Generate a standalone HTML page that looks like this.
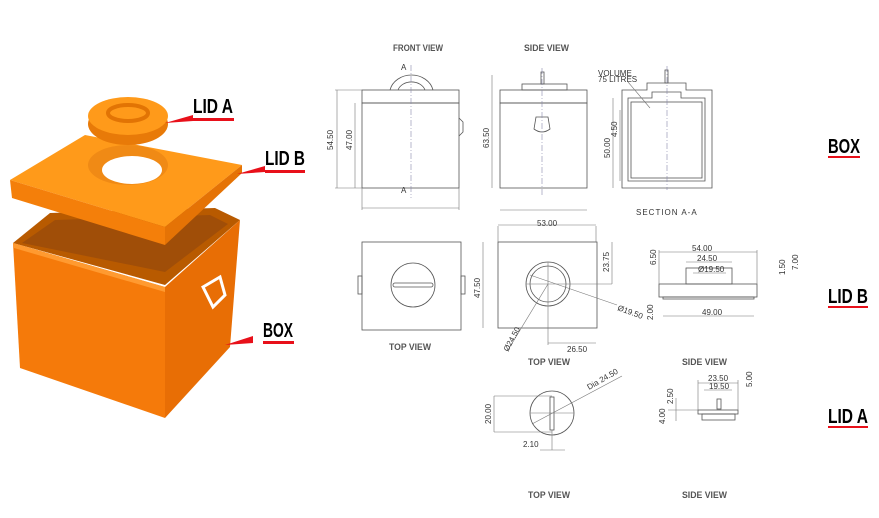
<!DOCTYPE html>
<html><head><meta charset="utf-8"><style>
html,body{margin:0;padding:0;background:#fff;}
svg{display:block;}
.l{fill:none;stroke:#555;stroke-width:0.8}
.d{fill:none;stroke:#777;stroke-width:0.6}
.c{fill:none;stroke:#88a;stroke-width:0.6;stroke-dasharray:6 2 1 2}
.t{font-family:"Liberation Sans",sans-serif;font-size:8px;fill:#333}
.h{font-family:"Liberation Sans",sans-serif;font-size:9px;font-weight:bold;fill:#555}
.b{font-family:"Liberation Sans",sans-serif;font-size:20px;font-weight:bold;fill:#000}
</style></head><body>
<svg width="879" height="518" viewBox="0 0 879 518" xmlns="http://www.w3.org/2000/svg">
<rect width="879" height="518" fill="#fff"/>
<!-- orange box -->
<polygon points="13,243 50,213 215,208 240,220 165,285" fill="#b85a00"/>
<polygon points="22,243 55,220 210,215 228,224 165,272" fill="#a04e08"/>
<polygon points="13,243 165,287 165,418 20,368" fill="#f57a0a"/>
<polygon points="165,287 240,220 230,347 165,418" fill="#e86e05"/>
<polygon points="13,243 165,287 165,292 14,248" fill="#ff9a30"/>
<path d="M203,287 l17,-10 l5,18 l-12,12 z" fill="none" stroke="#fff" stroke-width="3"/>
<!-- lid B -->
<polygon points="10,180 85,135 242,165 165,227" fill="#ff9a1a"/>
<polygon points="10,180 165,227 165,245 12,198" fill="#f47f0a"/>
<polygon points="165,227 242,165 242,173 165,245" fill="#e57305"/>
<ellipse cx="128" cy="165" rx="40" ry="20" fill="#f08a15"/>
<ellipse cx="132" cy="170" rx="30" ry="14" fill="#fff"/>
<!-- lid A -->
<ellipse cx="128" cy="124" rx="40" ry="21" fill="#e87a08"/>
<ellipse cx="128" cy="116" rx="40" ry="19" fill="#ff9a1a"/>
<ellipse cx="128" cy="113" rx="20" ry="8" fill="none" stroke="#e27404" stroke-width="4"/>
<!-- labels left -->
<text x="193" y="113" class="b" textLength="40" lengthAdjust="spacingAndGlyphs">LID A</text>
<rect x="193" y="118" width="41" height="3" fill="#e8101a"/>
<polygon points="165,123 193,115 193,121" fill="#e8101a"/>
<text x="265" y="165" class="b" textLength="40" lengthAdjust="spacingAndGlyphs">LID B</text>
<rect x="265" y="170" width="40" height="3" fill="#e8101a"/>
<polygon points="237,174 265,166 265,172" fill="#e8101a"/>
<text x="263" y="337" class="b" textLength="30" lengthAdjust="spacingAndGlyphs">BOX</text>
<rect x="263" y="341" width="31" height="3" fill="#e8101a"/>
<polygon points="225,345 253,336 253,343" fill="#e8101a"/>
<!-- right labels -->
<text x="828" y="153" class="b" textLength="32" lengthAdjust="spacingAndGlyphs">BOX</text>
<rect x="828" y="156" width="32" height="2" fill="#e8101a"/>
<text x="828" y="303" class="b" textLength="40" lengthAdjust="spacingAndGlyphs">LID B</text>
<rect x="828" y="306" width="40" height="2" fill="#e8101a"/>
<text x="828" y="423" class="b" textLength="40" lengthAdjust="spacingAndGlyphs">LID A</text>
<rect x="828" y="426" width="40" height="2" fill="#e8101a"/>
<!-- headings -->
<text x="393" y="51" class="h" textLength="50" lengthAdjust="spacingAndGlyphs">FRONT VIEW</text>
<text x="524" y="51" class="h" textLength="45" lengthAdjust="spacingAndGlyphs">SIDE VIEW</text>
<text x="389" y="350" class="h" textLength="42" lengthAdjust="spacingAndGlyphs">TOP VIEW</text>
<text x="528" y="365" class="h" textLength="42" lengthAdjust="spacingAndGlyphs">TOP VIEW</text>
<text x="682" y="365" class="h" textLength="45" lengthAdjust="spacingAndGlyphs">SIDE VIEW</text>
<text x="528" y="498" class="h" textLength="42" lengthAdjust="spacingAndGlyphs">TOP VIEW</text>
<text x="682" y="498" class="h" textLength="45" lengthAdjust="spacingAndGlyphs">SIDE VIEW</text>
<!-- front view -->
<rect x="362" y="90" width="97" height="13" class="l"/>
<rect x="362" y="103" width="97" height="85" class="l"/>
<path d="M390,90 A22,19 0 0 1 433,90" class="l"/>
<path d="M398,90 A14,11 0 0 1 425,90" class="l"/>
<path d="M459,118 l4,4 v10 l-4,4" class="l"/>
<line x1="411" y1="65" x2="411" y2="198" class="c"/>
<line x1="337" y1="90" x2="337" y2="188" class="d"/><line x1="335" y1="90" x2="362" y2="90" class="d"/><line x1="335" y1="188" x2="362" y2="188" class="d"/>
<line x1="355" y1="103" x2="355" y2="188" class="d"/>
<line x1="362" y1="208" x2="459" y2="208" class="d"/><line x1="362" y1="188" x2="362" y2="210" class="d"/><line x1="459" y1="188" x2="459" y2="210" class="d"/>
<text class="t" transform="translate(333,150) rotate(-90)">54.50</text>
<text class="t" transform="translate(352,150) rotate(-90)">47.00</text>
<text class="t" x="401" y="70" font-size="6">A</text><text class="t" x="401" y="193" font-size="6">A</text>
<!-- side view -->
<rect x="500" y="90" width="87" height="13" class="l"/>
<rect x="500" y="103" width="87" height="85" class="l"/>
<rect x="522" y="84" width="45" height="6" class="l"/>
<rect x="541" y="72" width="3" height="12" class="l"/>
<path d="M536,117 h12 l2,12 q-8,6 -16,0 z" class="l"/>
<line x1="542" y1="68" x2="542" y2="195" class="c"/>
<line x1="492" y1="75" x2="492" y2="188" class="d"/>
<line x1="500" y1="210" x2="587" y2="210" class="d"/>
<text class="t" transform="translate(489,148) rotate(-90)">63.50</text>
<line x1="498" y1="225" x2="596" y2="225" class="d"/>
<text class="t" x="537" y="226">53.00</text>
<!-- section -->
<path d="M622,90 H647 V83 H686 V90 H712 V188 H622 Z" class="l"/>
<path d="M628,98 H652 V92 H681 V98 H705 V181 H628 Z" class="l"/>
<rect x="631" y="102" width="71" height="76" class="l"/>
<rect x="665" y="70" width="3" height="13" class="l"/>
<line x1="667" y1="66" x2="667" y2="190" class="c"/>
<line x1="613" y1="98" x2="613" y2="188" class="d"/><line x1="620" y1="110" x2="620" y2="181" class="d"/>
<text class="t" transform="translate(610,158) rotate(-90)">50.00</text>
<text class="t" transform="translate(617,137) rotate(-90)">4.50</text>
<text class="t" x="598" y="76" font-size="5">VOLUME</text><text class="t" x="598" y="82" font-size="5">75 LITRES</text>
<line x1="628" y1="82" x2="650" y2="108" class="d"/>
<text class="t" x="636" y="215" font-size="10" letter-spacing="1">SECTION A-A</text>
<!-- lid B top view 1 -->
<rect x="362" y="242" width="99" height="88" class="l"/>
<circle cx="413" cy="285" r="22" class="l"/>
<rect x="393" y="283" width="40" height="4" rx="2" class="l"/>
<rect x="358" y="276" width="4" height="18" class="l"/><rect x="461" y="276" width="4" height="18" class="l"/>
<!-- lid B top view 2 -->
<rect x="498" y="242" width="99" height="86" class="l"/>
<circle cx="548" cy="284" r="22" class="l"/><circle cx="548" cy="284" r="18" class="l"/>
<line x1="548" y1="262" x2="548" y2="345" class="d"/><line x1="526" y1="284" x2="612" y2="284" class="d"/>
<line x1="530" y1="275" x2="617" y2="305" class="d"/><line x1="548" y1="284" x2="508" y2="350" class="d"/>
<line x1="498" y1="226" x2="498" y2="242" class="d"/><line x1="596" y1="226" x2="596" y2="242" class="d"/>
<line x1="483" y1="242" x2="483" y2="328" class="d"/>
<line x1="612" y1="242" x2="612" y2="284" class="d"/>
<line x1="548" y1="343" x2="596" y2="343" class="d"/>
<text class="t" transform="translate(480,298) rotate(-90)">47.50</text>
<text class="t" transform="translate(609,272) rotate(-90)">23.75</text>
<text class="t" x="567" y="352">26.50</text>
<text class="t" transform="translate(617,310) rotate(20)">Ø19.50</text>
<text class="t" transform="translate(508,352) rotate(-62)">Ø24.50</text>
<!-- lid B side -->
<rect x="659" y="284" width="98" height="13" class="l"/>
<rect x="663" y="297" width="91" height="2" class="l"/>
<rect x="686" y="268" width="46" height="16" class="l"/>
<line x1="659" y1="252" x2="757" y2="252" class="d"/><line x1="659" y1="250" x2="659" y2="284" class="d"/><line x1="757" y1="250" x2="757" y2="284" class="d"/>
<line x1="686" y1="262" x2="732" y2="262" class="d"/>
<line x1="693" y1="273" x2="726" y2="273" class="d"/>
<line x1="663" y1="316" x2="754" y2="316" class="d"/>
<text class="t" x="692" y="251">54.00</text><text class="t" x="697" y="261">24.50</text><text class="t" x="698" y="272">Ø19.50</text>
<text class="t" x="702" y="315">49.00</text>
<text class="t" transform="translate(656,265) rotate(-90)">6.50</text>
<text class="t" transform="translate(653,320) rotate(-90)">2.00</text>
<text class="t" transform="translate(785,275) rotate(-90)">1.50</text>
<text class="t" transform="translate(798,270) rotate(-90)">7.00</text>
<!-- lid A top -->
<circle cx="552" cy="413" r="22" class="l"/>
<rect x="550" y="397" width="4" height="33" class="l"/>
<line x1="530" y1="413" x2="574" y2="413" class="d"/>
<line x1="532" y1="424" x2="622" y2="376" class="d"/>
<line x1="494" y1="396" x2="494" y2="432" class="d"/><line x1="494" y1="396" x2="552" y2="396" class="d"/><line x1="494" y1="432" x2="552" y2="432" class="d"/>
<line x1="552" y1="430" x2="552" y2="450" class="d"/><line x1="540" y1="450" x2="565" y2="450" class="d"/>
<text class="t" transform="translate(491,424) rotate(-90)">20.00</text>
<text class="t" x="523" y="447">2.10</text>
<text class="t" transform="translate(589,390) rotate(-30)">Dia 24.50</text>
<!-- lid A side -->
<rect x="698" y="410" width="40" height="4" class="l"/>
<rect x="702" y="414" width="33" height="6" class="l"/>
<rect x="717" y="399" width="4" height="10" class="l"/>
<line x1="698" y1="383" x2="738" y2="383" class="d"/><line x1="704" y1="390" x2="732" y2="390" class="d"/>
<line x1="698" y1="380" x2="698" y2="410" class="d"/><line x1="738" y1="380" x2="738" y2="410" class="d"/>
<line x1="676" y1="398" x2="676" y2="421" class="d"/><line x1="668" y1="410" x2="698" y2="410" class="d"/>
<text class="t" x="708" y="381">23.50</text><text class="t" x="709" y="389">19.50</text>
<text class="t" transform="translate(752,387) rotate(-90)">5.00</text>
<text class="t" transform="translate(673,404) rotate(-90)">2.50</text>
<text class="t" transform="translate(665,424) rotate(-90)">4.00</text>
</svg>
</body></html>
